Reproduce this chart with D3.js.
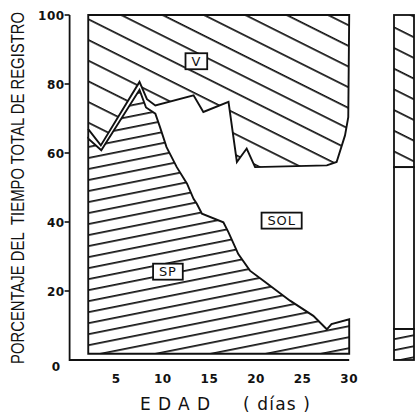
<!DOCTYPE html>
<html>
<head>
<meta charset="utf-8">
<script src="https://cdn.jsdelivr.net/npm/d3@7"></script>
<style>
  html, body { margin: 0; padding: 0; background: #fff; }
  svg { display: block; }
</style>
</head>
<body>
<svg id="chart" width="416" height="415"></svg>
<script>
// ---------------- data ----------------
const xTicks = [5, 10, 15, 20, 25, 30];
const yTicks = [0, 20, 40, 60, 80, 100];

// lower edge of the V band (= SP + SOL), % of total recording time
const vLowerDays = [2, 3.35, 7.5, 8.3, 9.2, 13.3, 14.35, 17.05, 17.95, 19.0, 19.9, 27.6, 28.65, 29.55, 29.9];
const vLowerPct  = [66.9, 62.2, 80.6, 75.6, 73.8, 76.7, 71.9, 74.8, 57.4, 61.3, 55.9, 56.4, 57.4, 65.1, 70.4];

// upper edge of the SP band
const spDays = [2, 3.4, 7.5, 8.2, 9.2, 9.7, 10.4, 11.5, 12.6, 13.3, 13.65, 14.2, 16.5, 17.05, 18.1, 19.35, 20.8, 23.65, 26.15, 27.6, 28.1, 30];
const spPct  = [64.2, 60.8, 78.3, 73.2, 71.4, 67.5, 61.7, 55.9, 51.1, 46.7, 45.3, 42.4, 39.9, 37.0, 30.7, 25.9, 23.0, 17.2, 12.8, 8.9, 10.4, 11.8];

// partially visible neighbouring panel (single column): V, SOL, SP shares
const panel2Labels = ["V", "SOL", "SP"];
const panel2Pct    = [44.1, 46.9, 9.0];

const regionLabels = ["V", "SOL", "SP"];
const labelDays    = [13.6, 22.75, 10.55];
const labelPct     = [86.6, 40.4, 25.6];

// ---------------- drawing ----------------
const svg = d3.select("#chart");
const x = d3.scaleLinear().domain([0, 30]).range([69.6, 349.2]);
const y = d3.scaleLinear().domain([0, 100]).range([360, 15]);
const x2 = d3.scaleLinear().domain([0, 1]).range([394, 414]);
const baseMain = 1.8;

const defs = svg.append("defs");
// V hatch: lines falling to the right
const pV = defs.append("pattern").attr("id", "hatchV")
  .attr("patternUnits", "userSpaceOnUse").attr("width", 40).attr("height", 18.5)
  .attr("patternTransform", "translate(10.5,0) rotate(26.57)");
pV.append("line").attr("x1", -5).attr("x2", 45).attr("y1", 0.9).attr("y2", 0.9)
  .attr("stroke", "#111").attr("stroke-width", 1.7);
// SP hatch: lines rising gently to the right
const pS = defs.append("pattern").attr("id", "hatchSP")
  .attr("patternUnits", "userSpaceOnUse").attr("width", 40).attr("height", 10.8)
  .attr("patternTransform", "translate(0,-1.5) rotate(-11.3)");
pS.append("line").attr("x1", -5).attr("x2", 45).attr("y1", 0.9).attr("y2", 0.9)
  .attr("stroke", "#111").attr("stroke-width", 1.7);

const line = d3.line().x(d => x(d[0])).y(d => y(d[1]));

// V polygon
const vPts = [[2, 100], [30, 100]];
for (let i = vLowerDays.length - 1; i >= 0; i--) vPts.push([vLowerDays[i], vLowerPct[i]]);
svg.append("path").attr("d", line(vPts) + "Z")
  .attr("fill", "url(#hatchV)").attr("stroke", "#111").attr("stroke-width", 1.9)
  .attr("stroke-linejoin", "miter");

// SP polygon
const spPts = [[2, baseMain]];
spDays.forEach((d, i) => spPts.push([d, spPct[i]]));
spPts.push([30, baseMain]);
svg.append("path").attr("d", line(spPts) + "Z")
  .attr("fill", "url(#hatchSP)").attr("stroke", "#111").attr("stroke-width", 1.9)
  .attr("stroke-linejoin", "miter");

// left edge across the thin SOL band
svg.append("line").attr("x1", x(2)).attr("x2", x(2))
  .attr("y1", y(spPct[0])).attr("y2", y(vLowerPct[0]))
  .attr("stroke", "#111").attr("stroke-width", 1.9);

// axes
svg.append("path")
  .attr("d", `M${x(0)},${y(100)}V${y(0)}H${x(30)}`)
  .attr("fill", "none").attr("stroke", "#111").attr("stroke-width", 1.8);

const tickFont = "'DejaVu Sans', sans-serif";
yTicks.forEach(t => {
  if (t > 0) {
    svg.append("line").attr("x1", x(0) - 5).attr("x2", x(0))
      .attr("y1", y(t)).attr("y2", y(t)).attr("stroke", "#111").attr("stroke-width", 1.6);
  }
  svg.append("text").attr("x", t === 0 ? x(0) - 9 : x(0) - 5).attr("y", y(t) + (t === 0 ? 11 : 4.5))
    .attr("text-anchor", "end").attr("font-family", tickFont).attr("font-weight", "bold")
    .attr("font-size", 12).attr("letter-spacing", 0.5).attr("fill", "#111").text(t);
});
xTicks.forEach(t => {
  svg.append("text").attr("x", x(t)).attr("y", 383)
    .attr("text-anchor", "middle").attr("font-family", tickFont).attr("font-weight", "bold")
    .attr("font-size", 12).attr("letter-spacing", 0.5).attr("fill", "#111").text(t);
});

// axis titles
const yTitle = svg.append("text")
  .attr("text-anchor", "middle")
  .attr("font-family", "'Liberation Sans Narrow', 'Liberation Sans', sans-serif")
  .attr("font-size", 14).attr("fill", "#111")
  .style("white-space", "pre")
  .text("PORCENTAJE DEL  TIEMPO TOTAL DE REGISTRO");
const natLen = yTitle.node().getComputedTextLength();
const sx = 352 / natLen;
yTitle.attr("transform", `translate(24,${(10 + 366) / 2}) rotate(-90) scale(${sx},1.25)`);

svg.append("text").attr("x", 140).attr("y", 410)
  .attr("font-family", "'DejaVu Sans', sans-serif").attr("font-size", 17).attr("fill", "#111")
  .attr("textLength", 70).attr("lengthAdjust", "spacing").text("EDAD");
svg.append("text").attr("x", 243).attr("y", 410)
  .attr("font-family", "'DejaVu Sans', sans-serif").attr("font-size", 17).attr("fill", "#111")
  .attr("textLength", 67).attr("lengthAdjust", "spacing").style("white-space", "pre").text("( días )");

// region labels in boxes
regionLabels.forEach((lab, i) => {
  const cx = x(labelDays[i]), cy = y(labelPct[i]);
  const g = svg.append("g");
  const t = g.append("text").attr("x", cx).attr("y", cy + 4.8)
    .attr("text-anchor", "middle").attr("font-family", "'DejaVu Sans', sans-serif")
    .attr("font-size", 13).attr("letter-spacing", 0.8).attr("fill", "#111").text(lab);
  const bb = t.node().getBBox();
  g.insert("rect", "text")
    .attr("x", cx - bb.width / 2 - 6).attr("y", cy - 8)
    .attr("width", bb.width + 12).attr("height", 16)
    .attr("fill", "#fff").attr("stroke", "#111").attr("stroke-width", 1.8);
});

// neighbouring panel column
let cum = 100;
const fills = { V: "url(#hatchV)", SOL: "#fff", SP: "url(#hatchSP)" };
panel2Labels.forEach((lab, i) => {
  const top = cum, bot = cum - panel2Pct[i];
  svg.append("rect").attr("x", x2(0)).attr("width", x2(1) - x2(0))
    .attr("y", y(top)).attr("height", y(bot) - y(top))
    .attr("fill", fills[lab]).attr("stroke", "#111").attr("stroke-width", 1.8);
  cum = bot;
});
</script>
</body>
</html>
